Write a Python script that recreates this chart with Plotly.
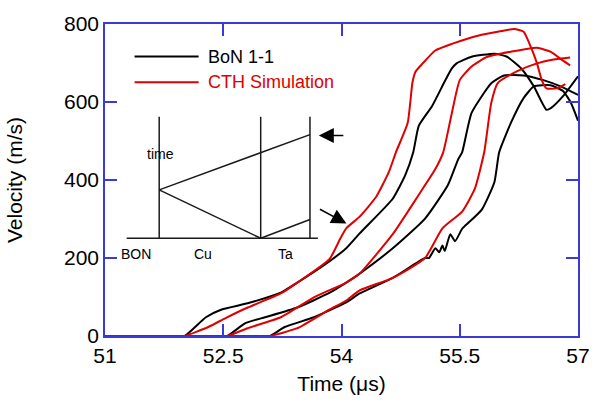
import plotly.graph_objects as go

# ---- Data ----
bon1_t = [51.0, 51.9, 52.01, 52.28, 52.48, 52.81, 53.23, 53.44, 53.85, 54.06, 54.23, 54.65, 54.81, 54.91,
          54.98, 55.15, 55.31, 55.40, 55.46, 55.65, 55.94, 56.10, 56.28, 56.44, 56.60, 56.66, 56.81, 57.0]
bon1_v = [0, 0, 0, 48, 68, 84, 111, 137, 192, 225, 263, 352, 413, 471,
          539, 590, 653, 686, 699, 716, 724, 716, 686, 640, 580, 585, 615, 666]

bon2_t = [51.0, 52.45, 52.55, 52.78, 53.03, 53.44, 53.85, 54.06, 54.23, 54.65, 55.06, 55.35, 55.48, 55.53,
          55.65, 55.90, 56.06, 56.31, 56.56, 56.78, 57.0]
bon2_v = [0, 0, 0, 33, 48, 73, 111, 137, 160, 225, 301, 387, 453, 471,
          572, 648, 668, 668, 656, 640, 618]

bon3_t = [51.0, 53.0, 53.09, 53.28, 53.65, 54.06, 54.23, 54.65, 55.06, 55.11, 55.19, 55.24, 55.28, 55.31,
          55.38, 55.44, 55.53, 55.56, 55.78, 55.94, 56.0, 56.15, 56.31, 56.44, 56.65, 56.81, 56.91, 57.0]
bon3_v = [0, 0, 0, 23, 48, 86, 109, 149, 200, 200, 225, 215, 232, 218,
          261, 243, 275, 281, 324, 395, 471, 547, 610, 640, 643, 628, 598, 552]

cth1_t = [51.0, 51.9, 52.01, 52.31, 52.53, 52.81, 53.23, 53.44, 53.85, 53.98, 54.06, 54.23, 54.44, 54.60,
          54.69, 54.84, 54.90, 54.94, 55.03, 55.19, 55.40, 55.73, 56.03, 56.19, 56.31, 56.40, 56.48,
          56.54, 56.60, 56.73, 56.84]
cth1_v = [0, 0, 0, 23, 46, 73, 109, 137, 198, 248, 276, 306, 357, 420,
          471, 547, 650, 678, 699, 732, 749, 770, 782, 787, 780, 742, 699,
          656, 635, 635, 646]

cth2_t = [51.0, 52.45, 52.55, 52.81, 53.23, 53.65, 54.06, 54.23, 54.65, 54.98, 55.19, 55.29, 55.40, 55.50,
          55.65, 55.85, 56.15, 56.48, 56.65, 56.81, 56.90]
cth2_v = [0, 0, 0, 20, 48, 99, 137, 160, 261, 362, 428, 471, 572, 656,
          691, 716, 729, 739, 729, 706, 694]

cth3_t = [51.0, 53.0, 53.09, 53.44, 53.85, 54.06, 54.23, 54.65, 55.06, 55.28, 55.53, 55.69, 55.81, 55.90,
          55.98, 56.23, 56.48, 56.69, 56.90]
cth3_v = [0, 0, 0, 20, 68, 91, 117, 149, 200, 276, 319, 377, 471, 598,
          648, 679, 699, 709, 714]

x_ticks = [51, 52.5, 54, 55.5, 57]
x_tick_labels = ["51", "52.5", "54", "55.5", "57"]
y_ticks = [0, 200, 400, 600, 800]
y_tick_labels = ["0", "200", "400", "600", "800"]

legend_labels = ["BoN 1-1", "CTH Simulation"]
inset_labels = ["time", "BON", "Cu", "Ta"]

# ---- Layout geometry (pixels of the 602x407 canvas) ----
W, H = 602, 407
L, R, T, B = 105, 585, 20, 336
FONT = "Liberation Sans, Arial, sans-serif"
BLUE = "#3a3ad6"
RED = "#e00000"


def px(xp):
    return (xp - L) / (R - L)


def py(yp):
    return (B - yp) / (B - T)


fig = go.Figure()
for t, v in [(bon1_t, bon1_v), (bon2_t, bon2_v), (bon3_t, bon3_v)]:
    fig.add_trace(go.Scatter(x=t, y=v, mode="lines",
                             line=dict(color="black", width=2, shape="spline", smoothing=0.5),
                             name=legend_labels[0], showlegend=False))
for t, v in [(cth1_t, cth1_v), (cth2_t, cth2_v), (cth3_t, cth3_v)]:
    fig.add_trace(go.Scatter(x=t, y=v, mode="lines",
                             line=dict(color=RED, width=2, shape="spline", smoothing=0.5),
                             name=legend_labels[1], showlegend=False))

shapes = []
# legend samples
shapes.append(dict(type="line", xref="paper", yref="paper", x0=px(135), x1=px(200), y0=py(53), y1=py(53),
                   line=dict(color="black", width=2)))
shapes.append(dict(type="line", xref="paper", yref="paper", x0=px(135), x1=px(200), y0=py(79), y1=py(79),
                   line=dict(color=RED, width=2)))
# inset diagram
inset_segments = [
    (160, 114, 160, 237), (263, 114, 263, 237), (313, 114, 313, 237),
    (127, 237, 321, 237),
    (160, 188, 313, 132), (160, 188, 263, 237), (263, 237, 313, 218),
]
for x0, y0, x1, y1 in inset_segments:
    shapes.append(dict(type="line", xref="paper", yref="paper", x0=px(x0), x1=px(x1), y0=py(y0), y1=py(y1),
                       line=dict(color="#1a1a1a", width=1.5)))

annotations = [
    dict(xref="paper", yref="paper", x=px(207), y=py(53), text=legend_labels[0], showarrow=False,
         xanchor="left", yanchor="middle", font=dict(family=FONT, size=18, color="black")),
    dict(xref="paper", yref="paper", x=px(207), y=py(79), text=legend_labels[1], showarrow=False,
         xanchor="left", yanchor="middle", font=dict(family=FONT, size=18, color=RED)),
    dict(xref="paper", yref="paper", x=px(161), y=py(152), text=inset_labels[0], showarrow=False,
         xanchor="center", yanchor="middle", font=dict(family=FONT, size=14, color="black")),
    dict(xref="paper", yref="paper", x=px(136), y=py(253), text=inset_labels[1], showarrow=False,
         xanchor="center", yanchor="middle", font=dict(family=FONT, size=14, color="black")),
    dict(xref="paper", yref="paper", x=px(204), y=py(253), text=inset_labels[2], showarrow=False,
         xanchor="center", yanchor="middle", font=dict(family=FONT, size=14, color="black")),
    dict(xref="paper", yref="paper", x=px(288), y=py(253), text=inset_labels[3], showarrow=False,
         xanchor="center", yanchor="middle", font=dict(family=FONT, size=14, color="black")),
    # arrows
    dict(xref="paper", yref="paper", x=px(322), y=py(133), ax=26, ay=0, text="", showarrow=True,
         arrowhead=2, arrowsize=2, arrowwidth=1.5, arrowcolor="black", standoff=0),
    dict(xref="paper", yref="paper", x=px(350), y=py(222), ax=-28, ay=-15, text="", showarrow=True,
         arrowhead=2, arrowsize=2, arrowwidth=1.5, arrowcolor="black", standoff=0),
]

axis_common = dict(showgrid=False, zeroline=False, showline=True, linecolor=BLUE, linewidth=1.5,
                   mirror="ticks", ticks="inside", ticklen=12, tickcolor=BLUE, tickwidth=1.5,
                   tickfont=dict(family=FONT, size=21, color="black"))

fig.update_layout(
    width=W, height=H,
    margin=dict(l=L, r=W - R, t=T, b=H - B),
    paper_bgcolor="white", plot_bgcolor="white",
    showlegend=False,
    xaxis=dict(range=[51, 57], tickvals=x_ticks, ticktext=x_tick_labels,
               title=dict(text="Time (μs)", font=dict(family=FONT, size=21, color="black"), standoff=10),
               **axis_common),
    yaxis=dict(range=[0, 800], tickvals=y_ticks, ticktext=y_tick_labels,
               title=dict(text="Velocity (m/s)", font=dict(family=FONT, size=21, color="black"), standoff=36),
               **axis_common),
    shapes=shapes,
    annotations=annotations,
)

fig.write_html("out.html")
